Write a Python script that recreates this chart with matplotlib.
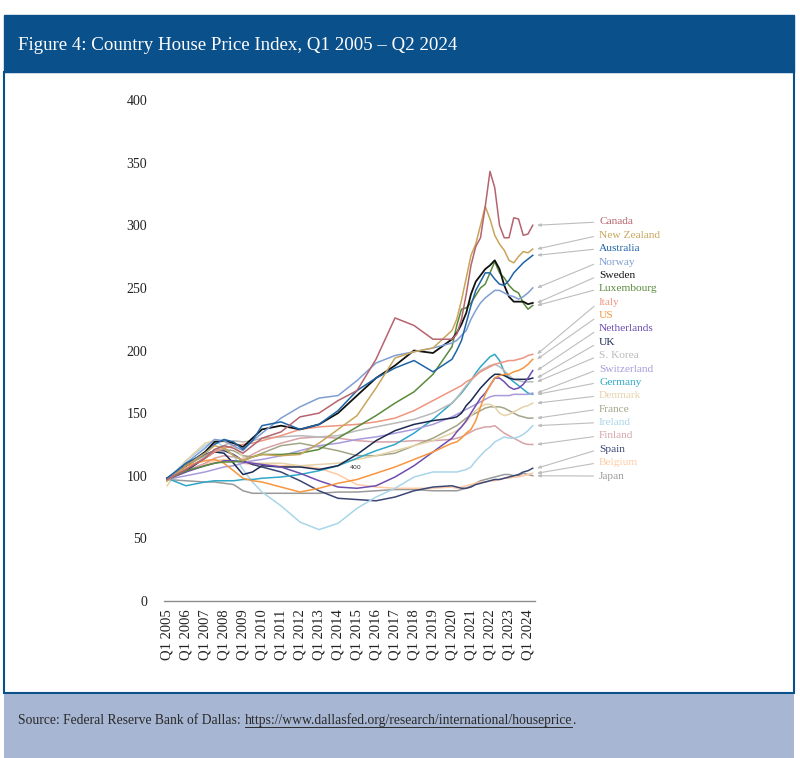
import matplotlib
matplotlib.use("Agg")
import matplotlib.pyplot as plt
from matplotlib.patches import Rectangle

# ---------------- data ----------------
periods = ["2005Q1", "2006Q1", "2007Q1", "2007Q3", "2008Q1", "2008Q3", "2009Q1", "2009Q3",
           "2010Q1", "2011Q1", "2012Q1", "2013Q1", "2014Q1", "2015Q1", "2016Q1", "2017Q1",
           "2018Q1", "2019Q1", "2020Q1", "2020Q2", "2020Q3", "2020Q4", "2021Q1", "2021Q2",
           "2021Q3", "2021Q4", "2022Q1", "2022Q2", "2022Q3", "2022Q4", "2023Q1", "2023Q2",
           "2023Q3", "2023Q4", "2024Q1", "2024Q2"]

canada = [97, 105, 114, 121, 124, 122, 118, 124, 130, 135, 147, 150, 160, 168, 193, 226, 220, 209,
          209, 213, 225, 245, 268, 283, 290, 315, 343, 330, 300, 290, 290, 306, 305, 292, 293, 300]
new_zealand = [96, 108, 118, 124, 122, 116, 112, 115, 117, 116, 117, 126, 137, 148, 170, 194, 199, 202,
               216, 225, 240, 258, 276, 285, 300, 315, 305, 292, 285, 280, 272, 270, 275, 279, 278, 281]
australia = [98, 110, 118, 125, 129, 127, 121, 128, 140, 143, 137, 141, 152, 168, 178, 186, 192, 183,
             193, 200, 208, 222, 236, 248, 255, 262, 262, 257, 253, 252, 256, 262, 266, 270, 273, 276]
norway = [97, 110, 122, 129, 128, 124, 120, 128, 134, 146, 155, 162, 164, 176, 190, 196, 199, 202,
          206, 208, 212, 216, 225, 232, 238, 242, 245, 248, 248, 246, 244, 243, 241, 243, 246, 250]
sweden = [98, 108, 119, 127, 128, 126, 123, 130, 137, 140, 137, 141, 150, 164, 178, 188, 200, 198,
          209, 214, 221, 230, 245, 255, 260, 265, 268, 272, 265, 252, 243, 239, 239, 239, 237, 238]
luxembourg = [97, 104, 108, 110, 111, 111, 112, 115, 117, 117, 118, 121, 130, 139, 148, 158, 167, 181,
              203, 220, 233, 234, 238, 244, 250, 253, 262, 271, 262, 258, 252, 248, 246, 238, 233, 236]
italy = [97, 106, 114, 119, 122, 124, 125, 126, 128, 132, 137, 139, 140, 141, 143, 146, 152, 160,
         168, 170, 172, 175, 177, 180, 183, 185, 187, 189, 190, 191, 192, 192, 193, 194, 196, 197]
us = [96, 108, 112, 113, 110, 104, 98, 96, 95, 91, 87, 90, 94, 97, 102, 107, 113, 119,
      126, 127, 130, 134, 137, 144, 155, 165, 172, 178, 180, 181, 181, 183, 184, 186, 189, 193]
netherlands = [97, 103, 108, 110, 112, 112, 111, 110, 109, 107, 102, 96, 91, 90, 92, 99, 108, 119,
               130, 135, 139, 144, 150, 156, 162, 166, 172, 178, 178, 175, 171, 169, 170, 173, 178, 184]
uk = [97, 104, 114, 119, 118, 110, 101, 103, 108, 107, 107, 105, 108, 117, 128, 136, 141, 144,
      146, 147, 150, 156, 160, 165, 170, 174, 178, 181, 181, 180, 178, 177, 177, 177, 177, 178]
s_korea = [97, 103, 115, 120, 124, 128, 127, 128, 130, 131, 132, 131, 132, 136, 139, 142, 145, 150,
           158, 162, 167, 172, 176, 180, 184, 186, 188, 189, 187, 184, 180, 177, 176, 175, 175, 175]
switzerland = [97, 100, 103, 105, 107, 108, 110, 112, 113, 116, 120, 124, 126, 129, 131, 134, 137, 141,
               147, 149, 151, 153, 155, 157, 159, 161, 163, 164, 164, 164, 164, 165, 165, 165, 165, 166]
germany = [98, 92, 95, 96, 96, 96, 97, 97, 98, 99, 101, 104, 108, 114, 120, 125, 134, 145,
           158, 162, 166, 171, 176, 182, 187, 191, 195, 197, 192, 183, 178, 175, 172, 169, 166, 165]
denmark = [92, 112, 126, 128, 127, 124, 115, 110, 110, 110, 108, 109, 110, 113, 116, 120, 124, 128,
           134, 136, 139, 143, 148, 152, 155, 157, 157, 155, 150, 148, 149, 151, 153, 155, 156, 158]
france = [96, 108, 116, 120, 121, 120, 116, 115, 118, 124, 126, 123, 120, 116, 116, 118, 124, 130,
          138, 140, 143, 146, 148, 150, 152, 154, 155, 155, 155, 154, 152, 150, 148, 147, 146, 146]
ireland = [96, 112, 124, 128, 123, 116, 105, 95, 87, 76, 63, 57, 62, 74, 83, 90, 99, 103,
           103, 103, 104, 105, 107, 112, 116, 120, 123, 127, 129, 131, 130, 130, 131, 133, 136, 140]
finland = [97, 104, 110, 114, 116, 115, 113, 117, 121, 126, 130, 131, 130, 128, 127, 127, 128, 128,
           129, 130, 131, 133, 135, 137, 138, 139, 139, 140, 137, 134, 132, 130, 128, 126, 125, 125]
spain = [97, 108, 117, 120, 120, 117, 112, 109, 107, 103, 96, 88, 82, 81, 80, 83, 88, 91,
         92, 91, 90, 90, 91, 93, 94, 95, 96, 97, 97, 98, 99, 100, 101, 103, 104, 106]
belgium = [97, 104, 109, 112, 113, 112, 110, 109, 109, 108, 108, 106, 101, 93, 91, 90, 90, 90,
           91, 90, 91, 92, 93, 94, 95, 95, 96, 96, 97, 98, 98, 99, 99, 100, 101, 102]
japan = [97, 96, 95, 95, 94, 93, 88, 86, 86, 86, 86, 86, 87, 87, 88, 89, 89, 88,
         88, 88, 89, 90, 92, 94, 96, 97, 98, 99, 100, 101, 101, 100, 100, 102, 101, 100]

names = ["Canada", "New Zealand", "Australia", "Norway", "Sweden", "Luxembourg", "Italy", "US",
         "Netherlands", "UK", "S. Korea", "Switzerland", "Germany", "Denmark", "France", "Ireland",
         "Finland", "Spain", "Belgium", "Japan"]
series = [canada, new_zealand, australia, norway, sweden, luxembourg, italy, us, netherlands, uk,
          s_korea, switzerland, germany, denmark, france, ireland, finland, spain, belgium, japan]
colors = ["#B5646E", "#C9A55B", "#1F64A6", "#7F9ED3", "#111111", "#5A8A3C", "#EE9580", "#F7963E",
          "#6E4DB0", "#1B2A52", "#B9B9B9", "#A99BDB", "#2FA8C9", "#E6D2A8", "#A2A586", "#A9D5E9",
          "#D6A3A8", "#3B4674", "#FFCBA4", "#9A9A9A"]

year_ticks = list(range(2005, 2025))
tick_labels = ["Q1 %d" % y for y in year_ticks]
y_ticks = [0, 50, 100, 150, 200, 250, 300, 350, 400]

title = "Figure 4: Country House Price Index, Q1 2005 \u2013 Q2 2024"
source_pre = "Source: Federal Reserve Bank of Dallas:"
source_url = "https://www.dallasfed.org/research/international/houseprice"

# ---------------- layout ----------------
W, H = 800, 758
SERIF = ["Liberation Serif", "DejaVu Serif"]
plt.rcParams["font.family"] = SERIF

def fx(px):
    return px / W

def fy(py):
    return 1 - py / H

t = [int(p[:4]) + (int(p[-1]) - 1) / 4 for p in periods]

fig = plt.figure(figsize=(W / 100, H / 100), dpi=100)
fig.patch.set_facecolor("white")

navy = "#0A508B"
fig.add_artist(Rectangle((fx(4), fy(693)), fx(790), 621 / H, transform=fig.transFigure,
                         facecolor="white", edgecolor=navy, lw=1.5, zorder=0))
fig.add_artist(Rectangle((fx(4), fy(72)), fx(790), 57 / H, transform=fig.transFigure,
                         facecolor=navy, edgecolor=navy, lw=1, zorder=1))
fig.add_artist(Rectangle((fx(4), fy(758)), fx(790), 65 / H, transform=fig.transFigure,
                         facecolor="#A7B6D2", edgecolor="none", zorder=1))
fig.add_artist(Rectangle((fx(4), fy(694)), fx(790), 1.5 / H, transform=fig.transFigure,
                         facecolor=navy, edgecolor="none", zorder=2))

fig.text(fx(18), fy(45), title, color="white", fontsize=13.6, va="center", ha="left")

ax = fig.add_axes([fx(164), fy(601), (535 - 164) / W, 501 / H])
ax.set_facecolor("none")
for i in range(len(series) - 1, -1, -1):
    ax.plot(t, series[i], color=colors[i], lw=1.1 if names[i] != "Sweden" else 1.3,
            solid_joinstyle="round")

ax.set_xlim(2005 - 3 / 19, 2005 + 368 / 19)
ax.set_ylim(0, 400)
for s in ["top", "right", "left"]:
    ax.spines[s].set_visible(False)
ax.spines["bottom"].set_color("#8C8C8C")
ax.spines["bottom"].set_linewidth(1.0)
ax.set_yticks(y_ticks)
ax.set_yticklabels([str(v) for v in y_ticks])
ax.set_xticks(year_ticks)
ax.set_xticklabels(tick_labels, rotation=90)
ax.tick_params(axis="y", length=0, pad=12, labelsize=10, labelcolor="#222222")
ax.tick_params(axis="x", length=0, pad=6, labelsize=10.5, labelcolor="#222222")

ax.text(0.515, 0.266, "400", transform=ax.transAxes, fontsize=4.5, color="#333333",
        ha="center", va="center", family=["DejaVu Sans"])

# end labels with connector arrows
label_y0, label_dy = 222, 13.37
for i, name in enumerate(names):
    ly = label_y0 + i * label_dy
    ax.annotate(name, xy=(t[-1] + 0.22, series[i][-1]), xycoords="data",
                xytext=(fx(599), fy(ly)), textcoords="figure fraction",
                ha="left", va="center", fontsize=8.2, color=colors[i],
                annotation_clip=False,
                arrowprops=dict(arrowstyle="-|>,head_length=0.25,head_width=0.1",
                                color="#BDBDBD", lw=0.8, shrinkA=2, shrinkB=0,
                                relpos=(0, 0.5)))

# footer
fig.canvas.draw()
r = fig.canvas.get_renderer()
base_y = fy(724)
fs = 9.8
t1 = fig.text(fx(18), base_y, source_pre, fontsize=fs, color="#2A2A2A", va="baseline", ha="left")
bb1 = t1.get_window_extent(renderer=r)
x_url = bb1.x1 + 3.8
t2 = fig.text(x_url / W, base_y, source_url, fontsize=fs, color="#2A2A2A", va="baseline", ha="left")
bb2 = t2.get_window_extent(renderer=r)
fig.text(bb2.x1 / W, base_y, ".", fontsize=fs, color="#2A2A2A", va="baseline", ha="left")
fig.add_artist(plt.Line2D([bb2.x0 / W, bb2.x1 / W], [fy(726.5), fy(726.5)],
                          transform=fig.transFigure, color="#2A2A2A", lw=0.7))

fig.savefig("out.png", dpi=100)
